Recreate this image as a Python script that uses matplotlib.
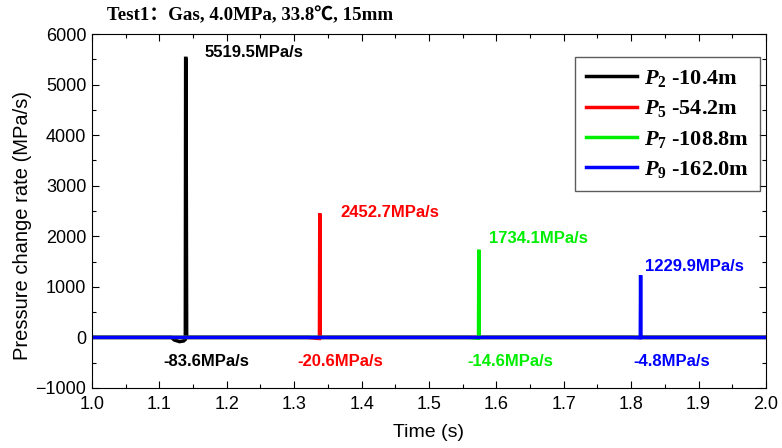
import matplotlib
matplotlib.use("Agg")
import matplotlib.pyplot as plt
from matplotlib.ticker import MultipleLocator

plt.rcParams['mathtext.fontset'] = 'custom'
plt.rcParams['mathtext.rm'] = 'Liberation Serif:bold'
plt.rcParams['mathtext.it'] = 'Liberation Serif:bold:italic'
plt.rcParams['mathtext.bf'] = 'Liberation Serif:bold'

# ---- data ----
t_p2 = [1.0, 1.118, 1.122, 1.13, 1.136, 1.1385, 1.139, 1.1395, 1.1405, 1.15, 2.0]
v_p2 = [0.0, 0.0, -50.0, -83.6, -70.0, -40.0, 5519.5, 5519.5, 0.0, 0.0, 0.0]
t_p5 = [1.0, 1.32, 1.336, 1.3375, 1.338, 1.3385, 1.345, 2.0]
v_p5 = [0.0, 0.0, -20.6, -20.6, 2452.7, 0.0, 0.0, 0.0]
t_p7 = [1.0, 1.56, 1.572, 1.5735, 1.574, 1.5745, 1.58, 2.0]
v_p7 = [0.0, 0.0, -14.6, -14.6, 1734.1, 0.0, 0.0, 0.0]
t_p9 = [1.0, 1.80, 1.812, 1.8135, 1.814, 1.8145, 1.82, 2.0]
v_p9 = [0.0, 0.0, -4.8, -4.8, 1229.9, 0.0, 0.0, 0.0]

series = [
    (t_p2, v_p2, '#000000', r'$P_2$ -10.4m'),
    (t_p5, v_p5, '#ff0000', r'$P_5$ -54.2m'),
    (t_p7, v_p7, '#00ee00', r'$P_7$ -108.8m'),
    (t_p9, v_p9, '#0000ff', r'$P_9$ -162.0m'),
]

peak_labels = ['5519.5MPa/s', '2452.7MPa/s', '1734.1MPa/s', '1229.9MPa/s']
peak_pos = [(1.167, 5630), (1.368, 2470), (1.589, 1956), (1.82, 1400)]
min_labels = ['-83.6MPa/s', '-20.6MPa/s', '-14.6MPa/s', '-4.8MPa/s']
min_pos = [(1.169, -474), (1.368, -474), (1.621, -474), (1.86, -474)]

fig = plt.figure(figsize=(7.82, 4.48), dpi=100)
ax = fig.add_axes([0.1176, 0.134, 0.8619, 0.79])

for t, v, c, lab in series:
    ax.plot(t, v, color=c, lw=2.5, label=lab, solid_joinstyle='miter')

sans = ['Liberation Sans', 'DejaVu Sans']
for (x, y), s, (_, _, c, _) in zip(peak_pos, peak_labels, series):
    ax.text(x, y, s, color=c, fontsize=12, fontweight='bold', family=sans,
            ha='left', va='center')
for (x, y), s, (_, _, c, _) in zip(min_pos, min_labels, series):
    ax.text(x, y, s, color=c, fontsize=12, fontweight='bold', family=sans,
            ha='center', va='center')

ax.set_xlim(1.0, 2.0)
ax.set_ylim(-1000, 6000)
ax.xaxis.set_major_locator(MultipleLocator(0.1))
ax.xaxis.set_minor_locator(MultipleLocator(0.05))
ax.yaxis.set_major_locator(MultipleLocator(1000))
ax.yaxis.set_minor_locator(MultipleLocator(500))
ax.tick_params(which='both', direction='in', top=True, right=True)
ax.tick_params(which='major', length=5, width=0.8, labelsize=13)
ax.tick_params(which='minor', length=3, width=0.8)
ax.tick_params(axis='x', pad=6)
ax.tick_params(axis='y', pad=4)
ax.set_xticks([1.0 + 0.1 * i for i in range(11)])
ax.set_xticklabels([f'{1.0 + 0.1 * i:.1f}' for i in range(11)])
for lbl in ax.get_xticklabels() + ax.get_yticklabels():
    lbl.set_family(sans)
    lbl.set_fontsize(13)

ax.set_xlabel('Time (s)', fontsize=14, family=sans, labelpad=8)
ax.set_ylabel('Pressure change rate (MPa/s)', fontsize=14.5, family=sans)
ax.yaxis.set_label_coords(-0.089, 0.46)

fig.text(0.137, 0.965, 'Test1：Gas, 4.0MPa, 33.8℃, 15mm', fontsize=13.6, fontweight='bold',
         family=['Liberation Serif', 'Noto Sans CJK SC'], ha='left', va='center')

leg = ax.legend(loc='upper right', bbox_to_anchor=(0.991, 0.935), fancybox=False, edgecolor='#333333',
                prop={'family': 'Liberation Serif', 'weight': 'bold', 'size': 16},
                handlelength=2.3, handletextpad=0.3, borderpad=0.5, labelspacing=0.42,
                borderaxespad=0.0)
leg.get_frame().set_linewidth(1.0)

fig.savefig('out.png', dpi=100)
